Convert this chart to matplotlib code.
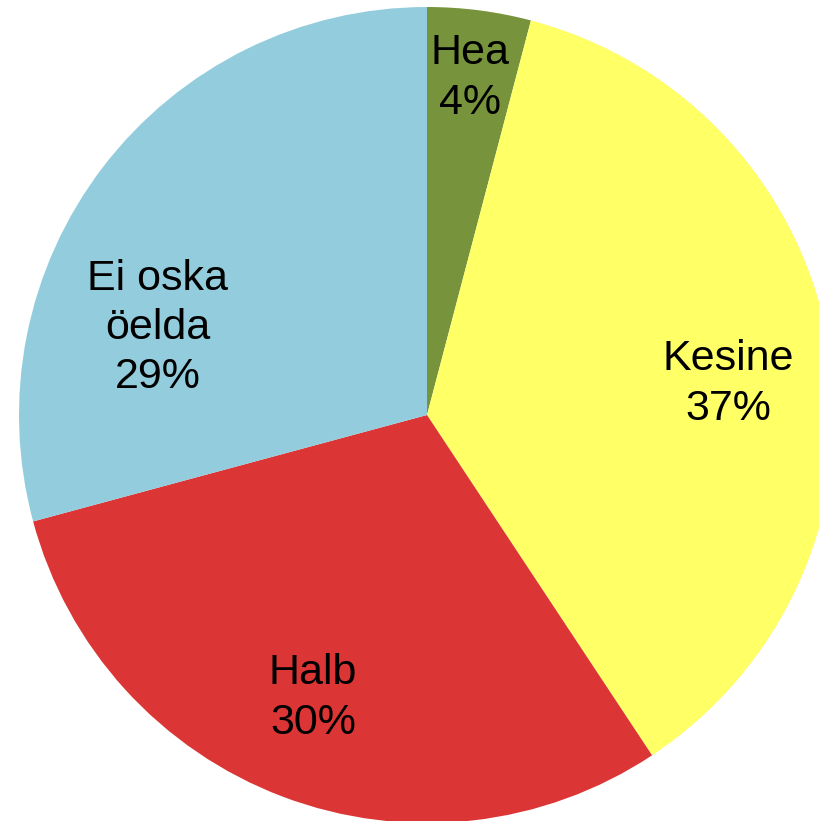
import matplotlib
matplotlib.use("Agg")
import matplotlib.pyplot as plt

categories = ["Hea", "Kesine", "Halb", "Ei oska\nöelda"]
values = [4.1, 36.6, 30.1, 29.2]
pct_labels = ["4%", "37%", "30%", "29%"]
colors = ["#77933C", "#FFFF66", "#DC3535", "#93CDDD"]

W, H = 820, 821
fig = plt.figure(figsize=(W / 100, H / 100), dpi=100)
ax = fig.add_axes([0, 0, 1, 1])

cx, cy, r = 427, H - 415, 408
ax.pie(values, colors=colors, startangle=90, counterclock=False,
       center=(cx, cy), radius=r, frame=True,
       wedgeprops=dict(linewidth=0))
ax.set_xlim(0, W)
ax.set_ylim(0, H)
ax.set_aspect("equal")
ax.axis("off")

# label anchor positions (pixels from top-left)
label_pos = [(470, 78), (728, 384), (313, 698), (158, 328)]
for cat, pct, (x, y) in zip(categories, pct_labels, label_pos):
    ax.text(x, H - y, f"{cat}\n{pct}", ha="center", va="center",
            fontsize=31, family=["Liberation Sans", "DejaVu Sans"],
            linespacing=1.3, color="black")

fig.savefig("out.png", dpi=100)
